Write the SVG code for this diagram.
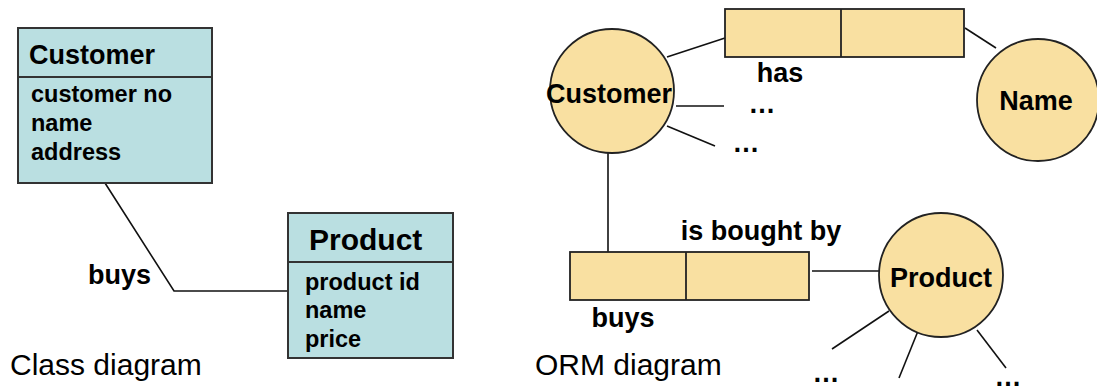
<svg xmlns="http://www.w3.org/2000/svg" width="1097" height="390" viewBox="0 0 1097 390">
<style>
text{font-family:"Liberation Sans",Arial,sans-serif;fill:#000}
.b{font-weight:bold}
.cls{fill:#BADFE1;stroke:#333;stroke-width:2}
.orm{fill:#F9E0A1;stroke:#222;stroke-width:1.8}
.ln{stroke:#111;stroke-width:1.6;fill:none}
.h{font-size:27px;font-weight:bold}
.a{font-size:23.5px;font-weight:bold}
.l{font-size:27px;font-weight:bold}
.cap{font-size:30px}
</style>
<rect width="1097" height="390" fill="#fff"/>
<g id="connectors">
<polyline class="ln" points="105,183 174,291 288,291"/>
<line class="ln" x1="667" y1="57" x2="725" y2="38"/>
<line class="ln" x1="965" y1="28" x2="996" y2="48"/>
<line class="ln" x1="676" y1="106" x2="724" y2="106"/>
<line class="ln" x1="667" y1="126" x2="715" y2="146"/>
<line class="ln" x1="608" y1="153" x2="608" y2="252"/>
<line class="ln" x1="812" y1="271" x2="879" y2="271"/>
<line class="ln" x1="889" y1="311" x2="832" y2="349"/>
<line class="ln" x1="918" y1="331" x2="899" y2="378"/>
<line class="ln" x1="977" y1="330" x2="1006" y2="368"/>
</g>
<g id="class-customer">
<rect class="cls" x="18" y="28" width="194" height="155"/>
<line class="cls" x1="18" y1="77" x2="212" y2="77"/>
<text class="h" x="29" y="64">Customer</text>
<text class="a" x="31" y="102">customer no</text>
<text class="a" x="31" y="131">name</text>
<text class="a" x="31" y="160">address</text>
</g>
<g id="class-product">
<rect class="cls" x="288" y="213" width="165" height="145"/>
<line class="cls" x1="288" y1="262" x2="453" y2="262"/>
<text class="b" x="309" y="250" font-size="30">Product</text>
<text class="a" x="305" y="290">product id</text>
<text class="a" x="305" y="318">name</text>
<text class="a" x="305" y="347">price</text>
</g>
<g id="label-buys-class"><text class="l" x="88" y="284">buys</text></g>
<g id="caption-class"><text class="cap" x="10" y="375">Class diagram</text></g>
<g id="caption-orm"><text class="cap" x="535" y="375">ORM diagram</text></g>
<g id="orm-customer">
<circle class="orm" cx="612" cy="91" r="62"/>
<text class="l" x="609" y="103" text-anchor="middle">Customer</text>
</g>
<g id="orm-name">
<circle class="orm" cx="1038" cy="100" r="61"/>
<text class="l" x="1036" y="110" text-anchor="middle">Name</text>
</g>
<g id="orm-product">
<circle class="orm" cx="941" cy="275" r="62"/>
<text class="l" x="941" y="287" text-anchor="middle">Product</text>
</g>
<g id="fact-has">
<rect class="orm" x="725" y="9" width="239" height="48"/>
<line class="orm" x1="841" y1="9" x2="841" y2="57"/>
<text class="l" x="780" y="82" text-anchor="middle">has</text>
</g>
<g id="fact-buys">
<rect class="orm" x="570" y="252" width="239" height="48"/>
<line class="orm" x1="686" y1="252" x2="686" y2="300"/>
<text class="l" x="623" y="327" text-anchor="middle">buys</text>
<text class="l" x="761" y="240" text-anchor="middle">is bought by</text>
</g>
<g id="ellipses">
<text class="l" x="762" y="113" text-anchor="middle">…</text>
<text class="l" x="746" y="152" text-anchor="middle">…</text>
<text class="l" x="826" y="382" text-anchor="middle">…</text>
<text class="l" x="1008" y="386" text-anchor="middle">…</text>
</g>
</svg>
